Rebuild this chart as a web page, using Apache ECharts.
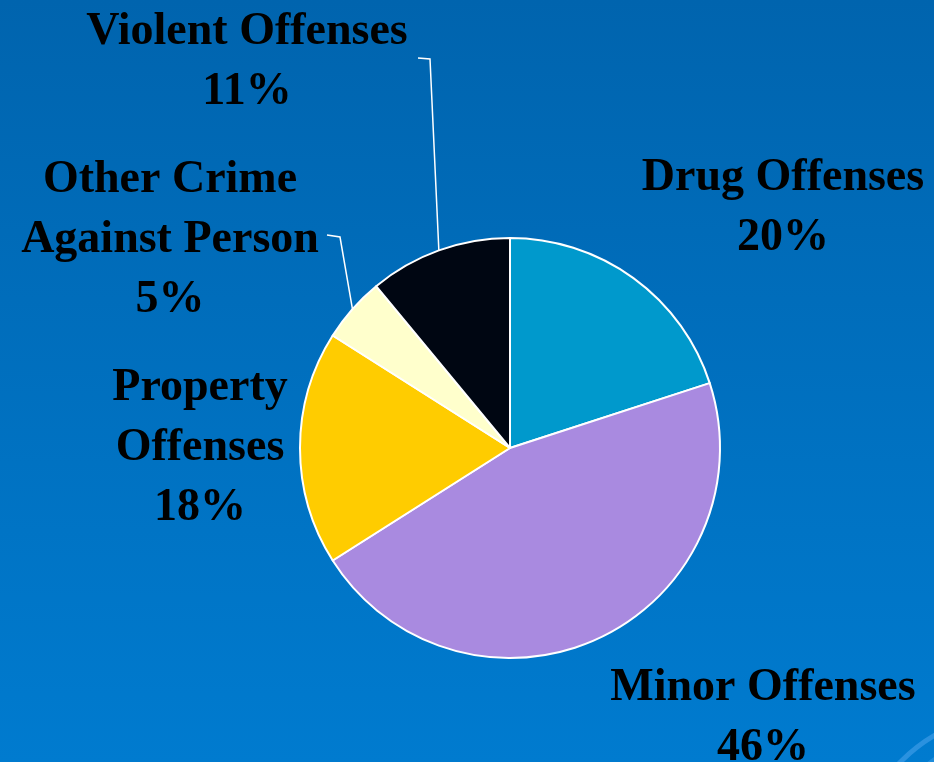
<!DOCTYPE html>
<html>
<head>
<meta charset="utf-8">
<script src="https://cdn.jsdelivr.net/npm/echarts@6/dist/echarts.min.js"></script>
<style>
  html, body { margin: 0; padding: 0; }
  #chart { width: 934px; height: 762px; }
</style>
</head>
<body>
<div id="chart"></div>
<script>
// Offense categories and their share of cases (percent)
var categories = ['Drug Offenses', 'Minor Offenses', 'Property Offenses', 'Other Crime Against Person', 'Violent Offenses'];
var labelTexts = ['Drug Offenses', 'Minor Offenses', 'Property\nOffenses', 'Other Crime\nAgainst Person', 'Violent Offenses'];
var values = [20, 46, 18, 5, 11];
var colors = ['#0099cc', '#a98ae0', '#ffcc00', '#ffffcc', '#000612'];

// Where each label block sits (center x, top y) and whether it has a leader line
var labelAnchors = [
  { x: 783, y: 148, line: false },
  { x: 763, y: 658, line: false },
  { x: 200, y: 358, line: false },
  { x: 170, y: 150, line: true, bend: [[340, 237], [327, 235]] },
  { x: 247, y: 2, line: true, bend: [[430, 59], [418, 58]] }
];

var chart = echarts.init(document.getElementById('chart'));

var data = categories.map(function (name, i) {
  return { name: name, value: values[i], itemStyle: { color: colors[i] } };
});

chart.setOption({
  backgroundColor: {
    type: 'linear', x: 0, y: 0, x2: 0, y2: 1,
    colorStops: [
      { offset: 0, color: '#0064ae' },
      { offset: 1, color: '#007bcf' }
    ]
  },
  graphic: [
    {
      type: 'arc',
      shape: { cx: 1020, cy: 880, r: 168, startAngle: Math.PI, endAngle: Math.PI * 1.5 },
      style: { stroke: 'rgba(120,190,255,0.35)', lineWidth: 5, fill: null },
      silent: true
    },
    {
      type: 'arc',
      shape: { cx: 1020, cy: 880, r: 148, startAngle: Math.PI, endAngle: Math.PI * 1.5 },
      style: { stroke: 'rgba(120,190,255,0.25)', lineWidth: 4, fill: null },
      silent: true
    }
  ],
  series: [{
    type: 'pie',
    center: [510, 448],
    radius: [0, 210],
    startAngle: 90,
    clockwise: true,
    animation: false,
    data: data,
    itemStyle: { borderColor: '#ffffff', borderWidth: 2 },
    label: {
      show: true,
      position: 'outside',
      overflow: 'none',
      formatter: function (p) {
        return labelTexts[p.dataIndex] + '\n' + p.value + '%';
      },
      fontFamily: 'Liberation Serif',
      fontWeight: 'bold',
      fontSize: 46,
      lineHeight: 60,
      color: '#000000',
      align: 'center'
    },
    labelLine: {
      show: true,
      lineStyle: { color: '#ffffff', width: 1.5 }
    },
    labelLayout: function (params) {
      var a = labelAnchors[params.dataIndex];
      var out = {
        x: a.x,
        y: a.y,
        align: 'center',
        verticalAlign: 'top'
      };
      var p0 = params.labelLinePoints[0];
      out.labelLinePoints = a.line ? [p0, a.bend[0], a.bend[1]] : [p0, p0, p0];
      return out;
    }
  }]
});
</script>
</body>
</html>
